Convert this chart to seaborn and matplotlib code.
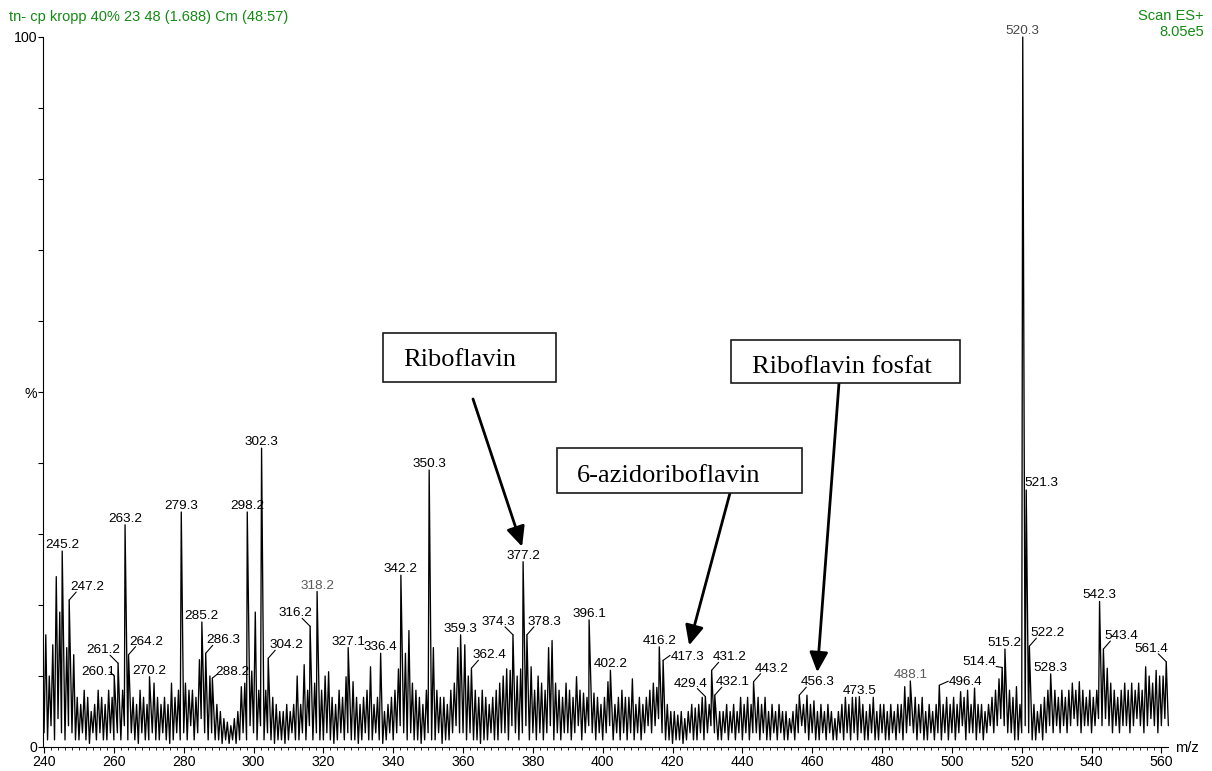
import matplotlib
matplotlib.use("Agg")
import matplotlib.pyplot as plt
import seaborn as sns
import pandas as pd
from matplotlib.patches import Rectangle
from matplotlib.transforms import offset_copy

# ---------------- data ----------------
header_left = "tn- cp kropp 40% 23 48 (1.688) Cm (48:57)"
header_right = ["Scan ES+", "8.05e5"]
x_label = "m/z"

# labelled peaks (m/z, relative intensity %)
peak_mz = [245.2, 247.2, 260.1, 261.2, 263.2, 264.2, 270.2, 279.3, 285.2, 286.3,
           288.2, 298.2, 302.3, 304.2, 316.2, 318.2, 327.1, 336.4, 342.2, 350.3,
           359.3, 362.4, 374.3, 377.2, 378.3, 396.1, 402.2, 416.2, 417.3, 429.4,
           431.2, 432.1, 443.2, 456.3, 473.5, 488.1, 496.4, 514.4, 515.2, 520.3,
           521.3, 522.2, 528.3, 542.3, 543.4, 561.4]
peak_int = [27.6, 20.7, 10.0, 11.8, 31.3, 13.0, 9.9, 33.1, 17.6, 13.2,
            9.7, 33.1, 42.1, 12.5, 17.0, 21.9, 14.0, 13.2, 24.2, 39.0,
            15.8, 11.1, 15.8, 26.1, 15.8, 17.9, 10.8, 14.1, 12.2, 7.1,
            10.8, 7.3, 9.2, 7.3, 7.1, 9.3, 8.7, 11.2, 13.8, 100.0,
            36.2, 14.2, 10.3, 20.5, 13.8, 12.0]

# unlabelled profile maxima at 240.5, 241.5, ... 561.5
noise_start = 240.5
noise_peaks = [
    15.8, 10, 14.4, 24, 19, 21, 14, 9, 13, 7,
    6, 8, 7, 5, 6, 8, 7, 6, 8, 7,
    7, 7, 8, 9, 9, 7, 6, 8, 7, 6,
    8, 9, 7, 6, 7, 6, 9, 7, 8, 9,
    9, 8, 8, 7, 12.3, 9, 9, 10, 7, 6,
    5, 4, 3.5, 3, 4, 5, 8.5, 9, 12, 10.7,
    19, 8, 8, 8, 7, 7, 6, 5, 5, 6,
    5, 6, 10, 6, 11.6, 8, 8, 9, 8, 8,
    10, 10.6, 7, 6, 8, 7, 9.9, 8, 9.2, 7,
    6, 7, 8, 11.3, 6, 7, 7, 5, 6, 7,
    8, 11, 10, 13.2, 16.4, 9, 8, 7, 6, 8,
    9, 14, 8, 7, 7, 6, 8, 9, 14, 8,
    14.4, 10, 8, 8, 7, 8, 7, 6, 7, 8,
    9, 10, 11, 10.8, 10, 10, 11, 9, 9, 11.3,
    8, 10, 9, 8, 14, 15, 9, 8, 7, 9,
    8, 7, 9.9, 8, 7.6, 7, 8, 7.6, 7, 6,
    7, 9.2, 8, 6, 7, 8, 7, 7, 9.6, 6,
    7, 6, 7, 8, 9, 8.4, 8, 8, 6, 5,
    5, 4.5, 5, 4, 5, 6, 5.5, 6, 7, 7,
    6, 8, 8, 5, 5, 6, 5, 6, 5, 7,
    6, 7, 6, 9, 7, 6, 7, 5, 6, 5,
    6, 5, 5, 4, 5, 6, 7, 6, 7.3, 6,
    6.5, 5, 6, 5, 6, 5, 4, 5, 6, 7,
    6, 7, 7, 7, 6, 5, 6, 7, 5, 6,
    6, 5, 6, 5, 6, 6, 8.5, 7, 9, 7,
    6, 7, 5, 6, 5, 6, 8, 6, 7, 6,
    7, 6, 7.8, 7, 8, 6, 8.3, 6, 6, 5,
    6, 7, 8, 9.6, 8, 8, 8, 7, 8.5, 6,
    6, 6, 6, 6, 5, 6, 7, 8, 8, 8,
    7, 8, 7, 8, 9, 8, 9.2, 8, 7, 8,
    7, 8, 8, 8, 11.1, 9, 8, 7, 8, 9,
    8, 9, 8, 9, 8, 11.3, 10, 9, 10.8, 10,
    10, 10]

# profile minima at 240, 241, ... 562
valley_start = 240
valleys = [
    2, 1, 3, 1, 4, 2, 1, 3, 2, 1,
    1, 2, 1, 0.5, 2, 1, 2, 1, 1, 2,
    1, 2, 1, 3, 1, 2, 1, 0.5, 2, 1,
    1, 2, 1, 1, 2, 1, 0.5, 1, 2, 1,
    2, 1, 3, 1, 2, 4, 2, 1, 2, 1,
    1, 0.5, 1, 0.5, 1, 0.5, 1, 2, 1, 3,
    2, 1, 3, 1, 2, 1, 0.5, 1, 1, 0.5,
    1, 2, 1, 1, 2, 1, 3, 1, 2, 1,
    1, 2, 1, 0.5, 1, 2, 1, 2, 1, 1,
    0.5, 1, 2, 1, 1, 2, 1, 0.5, 1, 2,
    1, 2, 3, 2, 1, 2, 1, 1, 0.5, 1,
    2, 1, 1, 2, 0.5, 1, 1, 2, 3, 2,
    2, 1, 2, 1, 1, 0.5, 1, 1, 2, 1,
    1, 2, 2, 1, 3, 2, 1, 2, 3, 1,
    2, 1, 2, 1, 2, 3, 1, 2, 1, 2,
    2, 1, 2, 3, 1, 2, 3, 2, 1, 2,
    1, 2, 3, 1, 2, 1, 2, 1, 2, 1,
    2, 1, 2, 3, 2, 3, 4, 2, 1, 1,
    0.5, 1, 1, 0.5, 1, 2, 1, 1, 2, 1,
    2, 3, 2, 1, 1, 2, 1, 2, 1, 2,
    1, 2, 1, 2, 2, 1, 2, 1, 1, 2,
    1, 2, 1, 1, 2, 1, 2, 3, 2, 1,
    2, 1, 1, 2, 1, 2, 1, 1, 2, 1,
    2, 1, 2, 1, 2, 1, 1, 2, 1, 1,
    2, 1, 1, 2, 1, 2, 1, 2, 3, 2,
    1, 2, 1, 1, 2, 1, 2, 1, 2, 1,
    2, 1, 2, 3, 1, 2, 2, 1, 2, 1,
    2, 3, 2, 3, 4, 3, 2, 2, 1, 1,
    2, 3, 2, 1, 1, 2, 1, 2, 3, 2,
    3, 2, 3, 2, 3, 4, 3, 2, 3, 3,
    2, 3, 4, 3, 4, 3, 2, 3, 2, 3,
    3, 2, 3, 4, 3, 2, 3, 4, 3, 2,
    3, 4, 3]

callout_names = ["Riboflavin", "6-azidoriboflavin", "Riboflavin fosfat"]
callout_targets = [377.2, 417.3, 456.3]

x_ticks = list(range(240, 561, 20))
y_ticks = list(range(0, 101, 10))
y_tick_labels = ["0", "", "", "", "", "%", "", "", "", "", "100"]

# ---------------- styling ----------------
W, H = 1212, 771
GREEN = "#138a13"
# label placement modes (text offset & leader end, in pixels from peak top)
MODES = {
    "c": ((0, 3), "center", None),
    "r0": ((-2, 4), "left", None),
    "r": ((1, 10), "left", (7, 8)),
    "l": ((2, 10), "right", (-8, 8)),
}
label_mode = {
    "247.2": "r", "264.2": "r", "286.3": "r", "304.2": "r",
    "362.4": "r", "378.3": "r", "431.2": "r", "432.1": "r",
    "443.2": "r", "456.3": "r", "522.2": "r", "543.4": "r",
    "261.2": "l", "316.2": "l", "374.3": "l", "429.4": "l",
    "561.4": "l", "521.3": "r0",
}
label_custom = {
    "417.3": ((8, 0), "left", (7, 5)),
    "496.4": ((9, 0), "left", (9, 4)),
    "288.2": ((3, 3), "left", (5, 4)),
    "260.1": ((1, 1), "right", (-4, 4)),
    "514.4": ((-6, 2), "right", (-6, 1)),
}
label_color = {"318.2": "#5a5a5a", "488.1": "#5a5a5a", "520.3": "#474747"}
# callout boxes in pixel coords (left, top, right, bottom), text left & baseline
box_px = [(383, 333, 556, 382), (557, 448, 802, 493), (731, 340, 960, 383)]
box_text_px = [(403, 366.5), (577, 481.5), (752, 373)]
arrow_start_px = [(473, 399), (730, 493), (839, 383)]
arrow_tip_offset = [(-1, 15), (26, 15), (18, 23)]

sns.set_theme(style="white")
plt.rcParams["font.family"] = ["Liberation Sans", "DejaVu Sans"]


def fx(x):
    return x / W


def fy(y):
    return 1 - y / H


# build profile
pts = [(valley_start + i, v) for i, v in enumerate(valleys)]
for i, v in enumerate(noise_peaks):
    m = noise_start + i
    if min(abs(m - p) for p in peak_mz) >= 0.5:
        pts.append((m, v))
pts += list(zip(peak_mz, peak_int))
pts.sort()
df = pd.DataFrame(pts, columns=["mz", "intensity"])

fig = plt.figure(figsize=(W / 100, H / 100), dpi=100)
ax = fig.add_axes([fx(43), fy(747), (1168 - 43) / W, (747 - 37) / H])

sns.lineplot(data=df, x="mz", y="intensity", ax=ax, color="black",
             linewidth=0.95, estimator=None, sort=False)
for ln in ax.lines:
    ln.set_clip_on(False)

ax.set_xlim(239.7, 561.9)
ax.set_ylim(0, 100)
ax.set_xlabel("")
ax.set_ylabel("")
for s in ["top", "right"]:
    ax.spines[s].set_visible(False)
for s in ["left", "bottom"]:
    ax.spines[s].set_color("black")
    ax.spines[s].set_linewidth(0.8)

ax.set_xticks(x_ticks)
ax.set_xticklabels([str(t) for t in x_ticks])
ax.set_xticks(list(range(240, 562, 2)), minor=True)
ax.set_yticks(y_ticks)
ax.set_yticklabels(y_tick_labels)
ax.tick_params(axis="x", which="major", direction="out", length=4.2, width=0.8,
               pad=1.5, labelsize=10.2, colors="black", bottom=True)
ax.tick_params(axis="x", which="minor", direction="out", length=2.2, width=0.7,
               bottom=True)
ax.tick_params(axis="y", which="major", direction="out", length=3.6, width=0.8,
               pad=0.8, labelsize=10.2, colors="black", left=True)
ax.grid(False)

# peak labels
lead = dict(arrowstyle="-", lw=0.8, color="black", shrinkA=0, shrinkB=0)
for m, v in zip(peak_mz, peak_int):
    t = f"{m:.1f}"
    toff, ha, leader = label_custom.get(t, MODES[label_mode.get(t, "c")])
    col = label_color.get(t, "black")
    if leader is not None:
        ax.annotate("", (m, v), xytext=leader, textcoords="offset pixels",
                    arrowprops=lead, annotation_clip=False)
    ax.annotate(t, (m, v), xytext=toff, textcoords="offset pixels",
                fontsize=9.7, color=col, ha=ha, va="baseline",
                annotation_clip=False)

# header texts
fig.text(fx(9), fy(20.5), header_left, color=GREEN, fontsize=10.5,
         ha="left", va="baseline")
fig.text(fx(1204), fy(20.5), header_right[0], color=GREEN, fontsize=10.5,
         ha="right", va="baseline")
fig.text(fx(1204), fy(36.5), header_right[1], color=GREEN, fontsize=10.5,
         ha="right", va="baseline")
fig.text(fx(1175), fy(748), x_label, color="black", fontsize=10.5,
         ha="left", va="center")

# callouts
for name, target, (l, t, r, b), (tx, ty), (sx, sy), (dx, dy) in zip(
        callout_names, callout_targets, box_px, box_text_px,
        arrow_start_px, arrow_tip_offset):
    fig.patches.append(Rectangle((fx(l), fy(b)), (r - l) / W, (b - t) / H,
                                 transform=fig.transFigure, facecolor="white",
                                 edgecolor="#1a1a1a", linewidth=1.2, zorder=5))
    fig.text(fx(tx), fy(ty), name, fontsize=19, family=["Liberation Serif"],
             color="black", ha="left", va="baseline", zorder=6)
    idx = peak_mz.index(target)
    tip_tr = offset_copy(ax.transData, x=dx, y=dy, units="dots")
    ax.annotate("", xy=(target, peak_int[idx]), xycoords=tip_tr,
                xytext=(fx(sx), fy(sy)), textcoords="figure fraction",
                arrowprops=dict(arrowstyle="-|>,head_length=0.6,head_width=0.28",
                                mutation_scale=20, lw=2.0, color="black",
                                shrinkA=0, shrinkB=0),
                annotation_clip=False)

fig.savefig("out.png", dpi=100)
